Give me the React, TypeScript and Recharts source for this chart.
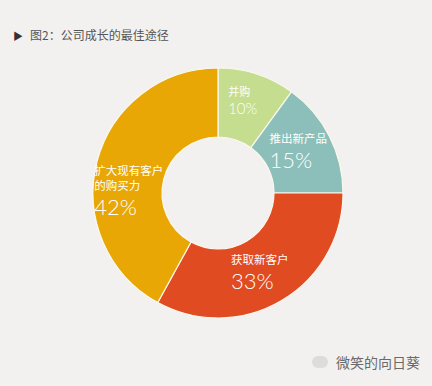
import React from "react";
import { PieChart, Pie, Cell } from "recharts";

// 图2：公司成长的最佳途径
const categories = ["并购", "推出新产品", "获取新客户", "扩大现有客户\n的购买力"];
const shares = [10, 15, 33, 42];
const sliceColors = ["#c4dd8e", "#8cbfb9", "#e04b22", "#e8a704"];

const chartData = categories.map((name, i) => ({ name, value: shares[i] }));

const RAD = Math.PI / 180;
// small hand nudges so the label blocks sit like the original
const LABEL_DY = [-7, -1, 2, 20];
const LABEL_DX = [-3, 0, -4, -2];

function renderLabel(props: any) {
    const { cx, cy, midAngle, index, payload } = props;
    const r = 90;
    const px = cx + r * Math.cos(-midAngle * RAD) + LABEL_DX[index];
    const py = cy + r * Math.sin(-midAngle * RAD) + LABEL_DY[index];
    const lines: string[] = String(payload.name).split("\n");
    const small = payload.value < 12;
    const nameSize = small ? 11 : 11.5;
    const pctSize = small ? 15 : 22;
    const lineH = 14.5;
    const longest = Math.max(...lines.map((l) => l.length));
    const w = Math.max(longest * nameSize, pctSize * 1.95);
    const h = (lines.length - 1) * lineH + pctSize + 4 + 10;
    const left = px - w / 2;
    const firstBase = py - h / 2 + 10;
    const pctBase = firstBase + (lines.length - 1) * lineH + pctSize + 3;
    return (
        <g>
            {lines.map((l, i) => (
                <text
                    key={i}
                    x={left}
                    y={firstBase + i * lineH}
                    fill="#ffffff"
                    fontSize={nameSize}
                    fontFamily="'Noto Sans CJK SC', sans-serif"
                    textAnchor="start"
                >
                    {l}
                </text>
            ))}
            <text
                x={left}
                y={pctBase}
                fill="#ffffff"
                fontSize={pctSize}
                fontWeight={300}
                fontFamily="Lato, 'Open Sans', sans-serif"
                textAnchor="start"
            >
                {payload.value}%
            </text>
        </g>
    );
}

export default function App() {
    return (
        <div
            style={{
                position: "absolute",
                left: 0,
                top: 0,
                width: 432,
                height: 386,
                background: "#f2f1f0",
                overflow: "hidden",
                fontFamily: "'Noto Sans CJK SC', sans-serif",
            }}
        >
            <div
                style={{
                    position: "absolute",
                    left: 13,
                    top: 26,
                    fontSize: 12,
                    color: "#555",
                    lineHeight: "18px",
                    whiteSpace: "nowrap",
                }}
            >
                <span style={{ fontSize: 10, marginRight: 7, color: "#333" }}>▶</span>
                图2：公司成长的最佳途径
            </div>

            <PieChart
                width={432}
                height={386}
                margin={{ top: 0, right: 0, bottom: 0, left: 0 }}
                style={{ position: "absolute", left: 0, top: 0 }}
            >
                <Pie
                    data={chartData}
                    dataKey="value"
                    nameKey="name"
                    cx={218}
                    cy={193}
                    innerRadius={56}
                    outerRadius={125}
                    startAngle={90}
                    endAngle={-270}
                    stroke="#fbf8ee"
                    strokeWidth={1.2}
                    label={renderLabel}
                    labelLine={false}
                    isAnimationActive={false}
                >
                    {chartData.map((d, i) => (
                        <Cell key={d.name} fill={sliceColors[i]} />
                    ))}
                </Pie>
            </PieChart>

            <div
                style={{
                    position: "absolute",
                    left: 312,
                    top: 352,
                    fontSize: 14,
                    color: "#6a6a6a",
                    whiteSpace: "nowrap",
                    display: "flex",
                    alignItems: "center",
                }}
            >
                <span
                    style={{
                        display: "inline-block",
                        width: 16,
                        height: 12,
                        borderRadius: 6,
                        background: "#dcdcdc",
                        marginRight: 8,
                    }}
                />
                微笑的向日葵
            </div>
        </div>
    );
}
